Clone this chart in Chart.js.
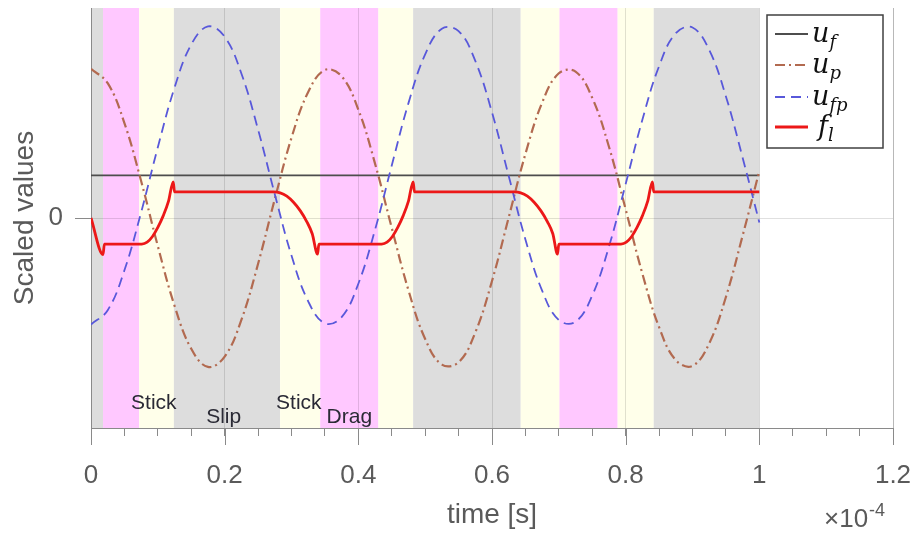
<!DOCTYPE html>
<html>
<head>
<meta charset="utf-8">
<script src="https://cdn.jsdelivr.net/npm/chart.js@4.4.1/dist/chart.umd.min.js"></script>
<style>
  html, body { margin: 0; padding: 0; background: #fff; }
  #wrap { width: 917px; height: 534px; }
</style>
</head>
<body>
<div id="wrap"><canvas id="chart" width="917" height="534"></canvas></div>
<script>
// --- DATA (time in units of 1e-4 s) ---
const timeSamples = [0, 0.025, 0.05, 0.075, 0.1, 0.125, 0.15, 0.175, 0.2, 0.225,
    0.25, 0.275, 0.3, 0.325, 0.35, 0.375, 0.4, 0.425, 0.45, 0.475,
    0.5, 0.525, 0.55, 0.575, 0.6, 0.625, 0.65, 0.675, 0.7, 0.725,
    0.75, 0.775, 0.8, 0.825, 0.85, 0.875, 0.9, 0.925, 0.95, 0.975, 1.0];

const upValues = [0.710, 0.642, 0.452, 0.176, -0.134, -0.418, -0.623, -0.709, -0.660, -0.485,
    -0.218, 0.090, 0.382, 0.600, 0.705, 0.675, 0.516, 0.259, -0.047, -0.344,
    -0.576, -0.698, -0.687, -0.545, -0.300, 0.003, 0.305, 0.549, 0.689, 0.697,
    0.572, 0.339, 0.041, -0.265, -0.520, -0.677, -0.704, -0.597, -0.376, -0.084, 0.224];

const ufpValues = [-0.507, -0.439, -0.249, 0.027, 0.337, 0.621, 0.826, 0.912, 0.863, 0.688,
    0.421, 0.113, -0.179, -0.397, -0.502, -0.472, -0.313, -0.056, 0.250, 0.547,
    0.779, 0.901, 0.890, 0.748, 0.503, 0.200, -0.102, -0.346, -0.486, -0.494,
    -0.369, -0.136, 0.162, 0.468, 0.723, 0.880, 0.907, 0.800, 0.579, 0.287, -0.021];

const ufTime = [0, 1.0];
const ufValues = [0.203, 0.203];

const flTime = [0, 0.018, 0.020,
    0.076, 0.084, 0.092, 0.100, 0.108, 0.116, 0.123, 0.125,
    0.273, 0.283, 0.293, 0.303, 0.313, 0.323, 0.331, 0.339, 0.341,
    0.435, 0.443, 0.451, 0.459, 0.467, 0.475, 0.482, 0.484,
    0.633, 0.643, 0.653, 0.663, 0.673, 0.683, 0.691, 0.698, 0.700,
    0.793, 0.801, 0.809, 0.817, 0.825, 0.833, 0.840, 0.842,
    1.0];
const flValues = [0, -0.174, -0.124,
    -0.124, -0.115, -0.088, -0.045, 0.010, 0.080, 0.172, 0.124,
    0.124, 0.120, 0.104, 0.075, 0.035, -0.018, -0.075, -0.172, -0.124,
    -0.124, -0.115, -0.088, -0.045, 0.010, 0.080, 0.172, 0.124,
    0.124, 0.120, 0.104, 0.075, 0.035, -0.018, -0.075, -0.172, -0.124,
    -0.124, -0.115, -0.088, -0.045, 0.010, 0.080, 0.172, 0.124,
    0.124];

// phase bands
const bandStart = [0, 0.018, 0.072, 0.124, 0.283, 0.343, 0.430, 0.482, 0.643, 0.701, 0.788, 0.842];
const bandEnd   = [0.018, 0.072, 0.124, 0.283, 0.343, 0.430, 0.482, 0.643, 0.701, 0.788, 0.842, 1.0];
const bandPhase = ['slip', 'drag', 'stick', 'slip', 'stick', 'drag', 'stick', 'slip', 'stick', 'drag', 'stick', 'slip'];

// phase annotations
const phaseText  = ['Stick', 'Slip', 'Stick', 'Drag'];
const phaseTime  = [0.094, 0.1985, 0.311, 0.3865];
const phaseLevel = [-0.910, -0.976, -0.910, -0.976];

// ticks
const xMajorTicks = [0, 0.2, 0.4, 0.6, 0.8, 1.0, 1.2];
const xTickLabels = ['0', '0.2', '0.4', '0.6', '0.8', '1', '1.2'];
const xMinorStep = 0.05;
const yTickValues = [0];
const yTickLabels = ['0'];

// legend
const legendMain = ['u', 'u', 'u', 'f'];
const legendSub  = ['f', 'p', 'fp', 'l'];

// --- STYLE ---
const bandColors = { slip: 'rgb(221,221,221)', drag: 'rgb(255,200,255)', stick: 'rgb(255,255,234)' };
const axisColor = '#8a8a8a';
const gridColor = 'rgba(0,0,0,0.12)';
const labelColor = '#5a5a5a';
const lineColors = ['#4d4d4d', 'rgb(178,106,80)', 'rgb(88,88,218)', 'rgb(236,24,24)'];
const lineDashes = [[], [10, 4, 2, 4], [10, 6], []];
const lineWidths = [1.6, 2.2, 1.8, 2.8];

function isMajor(v) {
    return xMajorTicks.some(m => Math.abs(m - v) < 1e-6);
}

const bandsPlugin = {
    id: 'bands',
    beforeDraw(chart) {
        const { ctx, chartArea, scales } = chart;
        ctx.save();
        for (let i = 0; i < bandStart.length; i++) {
            const x0 = scales.x.getPixelForValue(bandStart[i]);
            const x1 = scales.x.getPixelForValue(bandEnd[i]);
            ctx.fillStyle = bandColors[bandPhase[i]];
            ctx.fillRect(x0, chartArea.top, x1 - x0, chartArea.bottom - chartArea.top);
        }
        ctx.restore();
    }
};

const extrasPlugin = {
    id: 'extras',
    afterDatasetsDraw(chart) {
        const { ctx, scales } = chart;
        ctx.save();
        ctx.font = '21px "Liberation Sans", Arial, sans-serif';
        ctx.fillStyle = '#2a2a35';
        ctx.textAlign = 'center';
        ctx.textBaseline = 'alphabetic';
        phaseText.forEach((t, i) => {
            ctx.fillText(t, scales.x.getPixelForValue(phaseTime[i]), scales.y.getPixelForValue(phaseLevel[i]));
        });
        ctx.restore();
    },
    afterDraw(chart) {
        const { ctx, chartArea, scales } = chart;
        ctx.save();
        // longer major ticks
        ctx.strokeStyle = axisColor;
        ctx.lineWidth = 1;
        xMajorTicks.forEach(v => {
            const x = Math.round(scales.x.getPixelForValue(v)) + 0.5;
            ctx.beginPath();
            ctx.moveTo(x, chartArea.bottom);
            ctx.lineTo(x, chartArea.bottom + 17);
            ctx.stroke();
        });
        // right box edge
        ctx.strokeStyle = '#b8b8b8';
        ctx.beginPath();
        ctx.moveTo(chartArea.right + 0.5, chartArea.top);
        ctx.lineTo(chartArea.right + 0.5, chartArea.bottom);
        ctx.stroke();

        // exponent
        ctx.fillStyle = labelColor;
        ctx.textBaseline = 'alphabetic';
        ctx.textAlign = 'left';
        ctx.font = '26px "Liberation Sans", Arial, sans-serif';
        ctx.fillText('\u00d710', 824, 527);
        ctx.font = '18px "Liberation Sans", Arial, sans-serif';
        ctx.fillText('-4', 869, 516);

        // legend
        const bx = 767, by = 15, bw = 116, bh = 133;
        ctx.fillStyle = '#fff';
        ctx.fillRect(bx, by, bw, bh);
        ctx.strokeStyle = '#404040';
        ctx.lineWidth = 1.5;
        ctx.strokeRect(bx, by, bw, bh);
        const rows = [34, 65, 97, 127];
        chart.data.datasets.forEach((ds, i) => {
            const y = rows[i];
            ctx.strokeStyle = lineColors[i];
            ctx.lineWidth = i === 3 ? 3 : 2;
            ctx.setLineDash(lineDashes[i]);
            ctx.beginPath();
            ctx.moveTo(775, y);
            ctx.lineTo(808, y);
            ctx.stroke();
            ctx.setLineDash([]);
            ctx.fillStyle = '#111';
            ctx.font = 'italic 27px "DejaVu Serif", serif';
            const mx = legendMain[i] === 'f' ? 818 : 812;
            ctx.fillText(legendMain[i], mx, y + 8);
            const w = ctx.measureText(legendMain[i]).width;
            ctx.font = 'italic 18px "DejaVu Serif", serif';
            ctx.fillText(legendSub[i], mx + w, y + 14);
        });
        ctx.restore();
    }
};

function initChart() {
    const ctx = document.getElementById('chart').getContext('2d');
    const sinePts = vals => timeSamples.map((t, i) => ({ x: t, y: vals[i] }));
    new Chart(ctx, {
        type: 'line',
        data: {
            datasets: [
                {
                    label: 'u_f',
                    data: ufTime.map((t, i) => ({ x: t, y: ufValues[i] })),
                    borderColor: lineColors[0], borderWidth: lineWidths[0],
                    pointRadius: 0, order: 3
                },
                {
                    label: 'u_p',
                    data: sinePts(upValues),
                    borderColor: lineColors[1], borderWidth: lineWidths[1], borderDash: lineDashes[1],
                    pointRadius: 0, tension: 0.4, order: 2
                },
                {
                    label: 'u_fp',
                    data: sinePts(ufpValues),
                    borderColor: lineColors[2], borderWidth: lineWidths[2], borderDash: lineDashes[2],
                    pointRadius: 0, tension: 0.4, order: 1
                },
                {
                    label: 'f_l',
                    data: flTime.map((t, i) => ({ x: t, y: flValues[i] })),
                    borderColor: lineColors[3], borderWidth: lineWidths[3],
                    pointRadius: 0, cubicInterpolationMode: 'monotone', order: 0
                }
            ]
        },
        options: {
            responsive: false,
            animation: false,
            devicePixelRatio: 1,
            layout: { padding: { left: 0, right: 24, top: 8, bottom: 0 } },
            plugins: { legend: { display: false }, tooltip: { enabled: false } },
            scales: {
                x: {
                    type: 'linear', min: 0, max: 1.2,
                    afterBuildTicks: scale => {
                        const t = [];
                        for (let v = 0; v <= 1.2 + 1e-9; v += xMinorStep) t.push({ value: +v.toFixed(4) });
                        scale.ticks = t;
                    },
                    afterFit: scale => {
                        scale.height = 106;
                        scale.paddingLeft = 0;
                        scale.paddingRight = 0;
                    },
                    ticks: {
                        autoSkip: false, maxRotation: 0, padding: 24,
                        color: labelColor,
                        font: { family: '"Liberation Sans", Arial, sans-serif', size: 26 },
                        callback: v => {
                            const i = xMajorTicks.findIndex(m => Math.abs(m - v) < 1e-6);
                            return i >= 0 ? xTickLabels[i] : '';
                        }
                    },
                    grid: {
                        color: c => (c.tick && isMajor(c.tick.value) && c.tick.value > 0 && c.tick.value < 1.2) ? gridColor : 'rgba(0,0,0,0)',
                        tickColor: axisColor, tickLength: 8, tickWidth: 1, lineWidth: 1
                    },
                    border: { display: true, color: axisColor, width: 1 },
                    title: {
                        display: true, text: 'time [s]', color: labelColor,
                        font: { family: '"Liberation Sans", Arial, sans-serif', size: 28 },
                        padding: { top: 0, bottom: 2 }
                    }
                },
                y: {
                    type: 'linear', min: -1, max: 1,
                    afterBuildTicks: scale => { scale.ticks = yTickValues.map(v => ({ value: v })); },
                    afterFit: scale => {
                        scale.width = 91;
                        scale.paddingTop = 0;
                        scale.paddingBottom = 0;
                    },
                    ticks: {
                        padding: 12, color: labelColor,
                        font: { family: '"Liberation Sans", Arial, sans-serif', size: 26 },
                        callback: v => {
                            const i = yTickValues.indexOf(v);
                            return i >= 0 ? yTickLabels[i] : '';
                        }
                    },
                    grid: { color: gridColor, tickColor: axisColor, tickLength: 16, lineWidth: 1 },
                    border: { display: true, color: axisColor, width: 1 },
                    title: {
                        display: true, text: 'Scaled values', color: labelColor,
                        font: { family: '"Liberation Sans", Arial, sans-serif', size: 28 },
                        padding: { top: 8, bottom: 0 }
                    }
                }
            }
        },
        plugins: [bandsPlugin, extrasPlugin]
    });
}

window.addEventListener('load', initChart);
</script>
</body>
</html>
